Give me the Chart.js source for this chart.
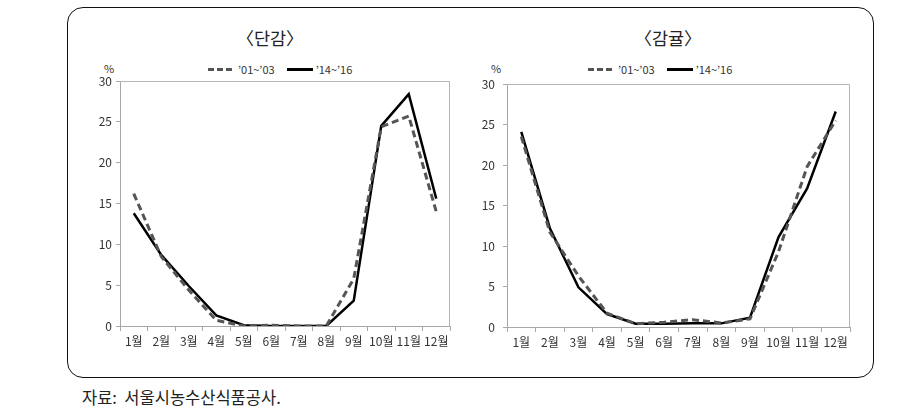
<!DOCTYPE html>
<html>
<head>
<meta charset="utf-8">
<script src="https://cdn.jsdelivr.net/npm/chart.js@4"></script>
<style>
  body { margin: 0; width: 916px; height: 419px; background: #fff; position: relative; font-family: "Noto Sans CJK KR", sans-serif; overflow: hidden; }
  .frame { position: absolute; left: 67px; top: 7px; width: 805px; height: 369px; border: 1.5px solid #111; border-radius: 16px; }
  .title { position: absolute; top: 25px; font-size: 17.5px; color: #222; transform: translateX(-50%); white-space: nowrap; }
  .legend { position: absolute; top: 61px; font-size: 11px; color: #333; display: flex; align-items: center; white-space: nowrap; }
  .legend .dash { display: inline-block; width: 24px; height: 3px; background: repeating-linear-gradient(to right, #555 0 6px, transparent 6px 9px); margin-right: 6px; }
  .legend .solid { display: inline-block; width: 26px; height: 3px; background: #000; margin: 0 3px 0 12px; }
  .pct { position: absolute; top: 60px; font-size: 11px; color: #333; }
  .cv { position: absolute; }
  .source { position: absolute; left: 82px; top: 385px; font-size: 16.5px; color: #222; }
</style>
</head>
<body>
<div class="frame"></div>

<div class="title" style="left:270px">〈단감〉</div>
<div class="title" style="left:668px">〈감귤〉</div>

<div class="legend" style="left:208px"><span class="dash"></span>’01~’03<span class="solid"></span>’14~’16</div>
<div class="legend" style="left:588px"><span class="dash"></span>’01~’03<span class="solid"></span>’14~’16</div>

<div class="pct" style="left:104px">%</div>
<div class="pct" style="left:491px">%</div>

<div class="cv" style="left:80px;top:60px;width:380px;height:300px"><canvas id="left"></canvas></div>
<div class="cv" style="left:470px;top:60px;width:390px;height:300px"><canvas id="right"></canvas></div>

<div class="source">자료:&nbsp; 서울시농수산식품공사.</div>

<script>
const months = ["1월", "2월", "3월", "4월", "5월", "6월", "7월", "8월", "9월", "10월", "11월", "12월"];

// 단감 (%)
const persimmonOld = [16.2, 8.5, 4.4, 0.7, 0.0, 0.1, 0.0, 0.0, 5.8, 24.4, 25.7, 14.0];
const persimmonNew = [13.8, 8.7, 4.9, 1.3, 0.1, 0.0, 0.0, 0.0, 3.1, 24.5, 28.4, 15.6];

// 감귤 (%)
const tangerineOld = [23.5, 11.7, 6.3, 1.7, 0.4, 0.6, 0.9, 0.5, 1.0, 9.3, 19.8, 25.5];
const tangerineNew = [24.1, 12.2, 4.9, 1.6, 0.4, 0.4, 0.45, 0.45, 1.15, 11.1, 17.1, 26.6];

const yMin = 0, yMax = 30, yStep = 5;

const frameBox = {
  id: "frameBox",
  afterDraw(chart) {
    const { ctx, chartArea: a } = chart;
    ctx.save();
    ctx.strokeStyle = "#b5b5b5";
    ctx.lineWidth = 1;
    ctx.beginPath();
    ctx.moveTo(a.left, a.top + 0.5);
    ctx.lineTo(a.right - 0.5, a.top + 0.5);
    ctx.lineTo(a.right - 0.5, a.bottom);
    ctx.stroke();
    ctx.restore();
  },
};

function makeChart(id, oldData, newData, opts) {
  new Chart(document.getElementById(id), {
    type: "line",
    data: {
      labels: months,
      datasets: [
        {
          label: "’01~’03",
          data: oldData,
          borderColor: "#555555",
          borderWidth: 3,
          borderDash: [7, 4],
          pointRadius: 0,
          tension: 0,
        },
        {
          label: "’14~’16",
          data: newData,
          borderColor: "#000000",
          borderWidth: 2.5,
          pointRadius: 0,
          tension: 0,
        },
      ],
    },
    options: {
      responsive: true,
      maintainAspectRatio: false,
      animation: false,
      layout: { padding: { top: opts.top, right: 10, left: 0, bottom: 0 } },
      scales: {
        x: {
          offset: true,
          border: { color: "#a8a8a8", width: 1 },
          grid: { display: true, drawOnChartArea: false, offset: true, tickLength: 5, color: "#a8a8a8" },
          ticks: { color: "#333", font: { family: "Noto Sans CJK KR", size: 12 }, padding: 3, maxRotation: 0, autoSkip: false },
          afterFit: (s) => { s.height = opts.xh; },
        },
        y: {
          min: yMin,
          max: yMax,
          border: { color: "#a8a8a8", width: 1 },
          grid: { display: true, drawOnChartArea: false, tickLength: 4, color: "#a8a8a8" },
          ticks: { stepSize: yStep, color: "#333", font: { family: "Noto Sans CJK KR", size: 12 }, padding: opts.ypad },
          afterFit: (s) => { s.width = opts.yw; },
        },
      },
      plugins: { legend: { display: false }, tooltip: { enabled: false } },
    },
    plugins: [frameBox],
  });
}

makeChart("left", persimmonOld, persimmonNew, { top: 21, xh: 34, yw: 40, ypad: 4 });
makeChart("right", tangerineOld, tangerineNew, { top: 24, xh: 33, yw: 37, ypad: 8 });
</script>
</body>
</html>
